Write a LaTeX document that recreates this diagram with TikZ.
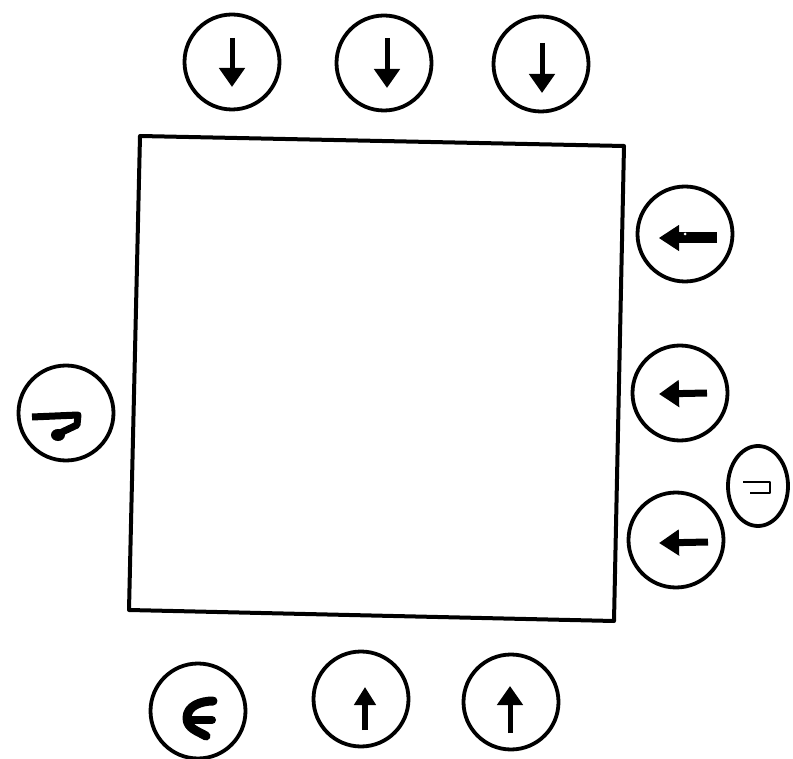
\documentclass[tikz,border=0pt]{standalone}
\usetikzlibrary{arrows.meta,calc}
\begin{document}
\begin{tikzpicture}[x=1pt,y=-1pt,line join=round,
  ring/.style={circle,draw,line width=3.8pt,minimum size=95pt,inner sep=0pt},
  glyph/.style={line width=5pt,-{Triangle[length=19pt,width=25pt]}},
  heavy/.style={line width=9pt,line cap=round},
  frame/.style={line width=4pt}]
\useasboundingbox (0,0) rectangle (793,759);
% square
\coordinate (sq1) at (140,136);
\coordinate (sq2) at (624,146);
\coordinate (sq3) at (614,621);
\coordinate (sq4) at (129,610);
\draw[frame] (sq1) -- (sq2) -- (sq3) -- (sq4) -- cycle;
% circles
\node[ring] (t1) at (232,62) {};
\node[ring] (t2) at (384,63) {};
\node[ring] (t3) at (541,64) {};
\node[ring] (r1) at (685,234) {};
\node[ring] (r2) at (680,393) {};
\node[ring] (r3) at (676,540) {};
\node[ring] (l1) at (66,413) {};
\node[ring] (b1) at (198,711) {};
\node[ring] (b2) at (361,699) {};
\node[ring] (b3) at (511,702) {};
\draw[line width=3.8pt] (758,486) ellipse (30pt and 40pt);
\node[inner sep=0pt,minimum width=60pt,minimum height=80pt] (e1) at (758,486) {};
% down arrows
\draw[glyph] ($(t1)+(0,-24)$) -- ($(t1)+(0,25)$);
\draw[glyph] ($(t2)+(3,-25)$) -- ($(t2)+(3,25)$);
\draw[glyph] ($(t3)+(1,-21)$) -- ($(t3)+(1,29)$);
% left arrows
\draw[line width=11pt] ($(r1)+(32,4)$) -- ($(r1)+(-8,4)$);
\draw[line width=1pt,-{Triangle[length=20pt,width=26pt]}] ($(r1)+(-8,4)$) -- ($(r1)+(-26,4)$);
\fill[white] ($(r1)+(0,0)$) circle (1.5pt);
\draw[line width=7pt,-{Triangle[length=20pt,width=26pt]}] ($(r2)+(27,0)$) -- ($(r2)+(-21,1)$);
\draw[line width=7pt,-{Triangle[length=20pt,width=25pt]}] ($(r3)+(32,2)$) -- ($(r3)+(-17,3)$);
% up arrows
\draw[line width=6pt,-{Triangle[length=18pt,width=21pt]}] ($(b2)+(4,31)$) -- ($(b2)+(4,-12)$);
\draw[glyph] ($(b3)+(-1,31)$) -- ($(b3)+(-1,-16)$);
% left glyph
\draw[line width=7pt] ($(l1)+(-34,4)$) -- ($(l1)+(12,2)$) -- ($(l1)+(11,12)$) -- ($(l1)+(-6,20)$);
\fill ($(l1)+(-8,22)$) ellipse (7pt and 6pt);
% bottom-left glyph
\draw[heavy] ($(b1)+(15,-10)$) to[out=180,in=90] ($(b1)+(-11,7)$) to[out=-90,in=150] ($(b1)+(8,25)$);
\draw[line width=8pt,line cap=round] ($(b1)+(-10,9)$) -- ($(b1)+(14,9)$);
% small glyph
\draw[line width=2.5pt] ($(e1)+(-15,-4)$) -- ($(e1)+(12,-4)$) -- ($(e1)+(12,7)$) -- ($(e1)+(-8,7)$);
\end{tikzpicture}
\end{document}
